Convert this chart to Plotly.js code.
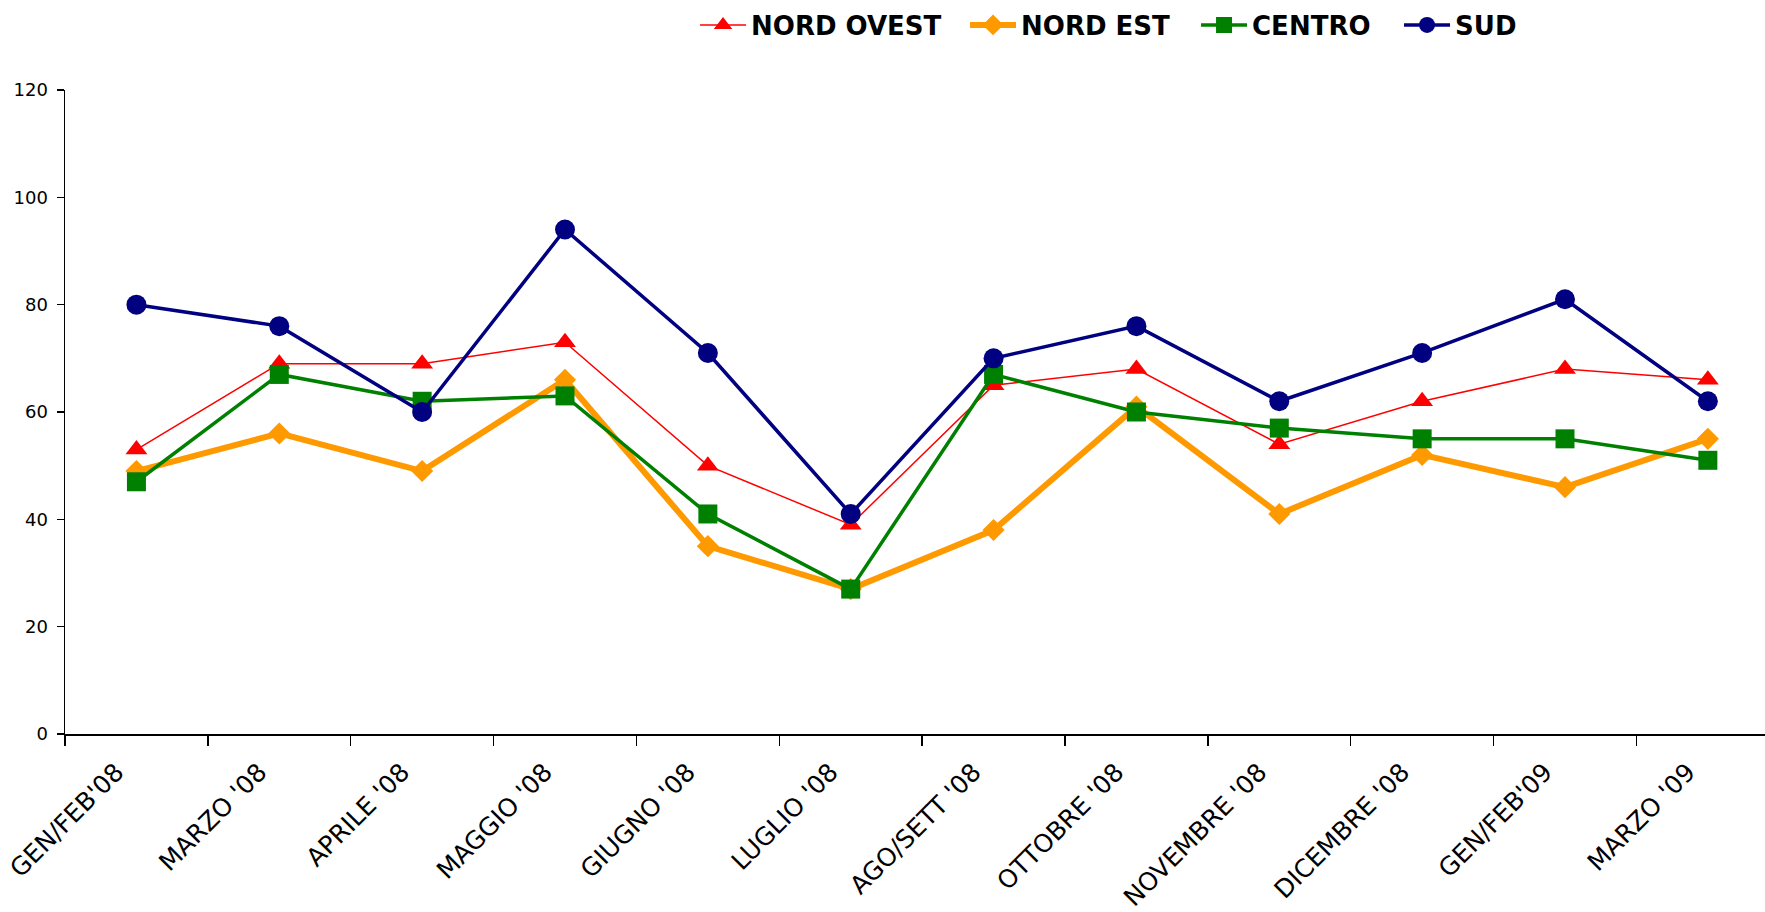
<!DOCTYPE html>
<html>
<head>
<meta charset="utf-8">
<script src="https://cdn.plot.ly/plotly-3.0.1.min.js"></script>
<style>
html,body{margin:0;padding:0;background:#fff;}
#chart{width:1765px;height:912px;}
</style>
</head>
<body>
<div id="chart"></div>
<script>
const categories = ["GEN/FEB'08", "MARZO '08", "APRILE '08", "MAGGIO '08", "GIUGNO '08", "LUGLIO '08", "AGO/SETT '08", "OTTOBRE '08", "NOVEMBRE '08", "DICEMBRE '08", "GEN/FEB'09", "MARZO '09"];
const nordOvest = [53, 69, 69, 73, 50, 39, 65, 68, 54, 62, 68, 66];
const nordEst   = [49, 56, 49, 66, 35, 27, 38, 61, 41, 52, 46, 55];
const centro    = [47, 67, 62, 63, 41, 27, 67, 60, 57, 55, 55, 51];
const sud       = [80, 76, 60, 94, 71, 41, 70, 76, 62, 71, 81, 62];
const seriesNames = ["NORD OVEST", "NORD EST", "CENTRO", "SUD"];

const traces = [
  {x: categories, y: nordOvest, name: seriesNames[0], type: 'scatter', mode: 'lines+markers', legendwidth: 209,
   line: {color: '#FF0000', width: 1.5}, marker: {symbol: 'triangle-up', size: 19, color: '#FF0000'}},
  {x: categories, y: nordEst, name: seriesNames[1], type: 'scatter', mode: 'lines+markers', legendwidth: 170,
   line: {color: '#FF9900', width: 6}, marker: {symbol: 'diamond', size: 17, color: '#FF9900'}},
  {x: categories, y: centro, name: seriesNames[2], type: 'scatter', mode: 'lines+markers', legendwidth: 142,
   line: {color: '#008000', width: 3.5}, marker: {symbol: 'square', size: 19, color: '#008000'}},
  {x: categories, y: sud, name: seriesNames[3], type: 'scatter', mode: 'lines+markers', legendwidth: 90,
   line: {color: '#000080', width: 3.5}, marker: {symbol: 'circle', size: 20, color: '#000080'}}
];

const layout = {
  width: 1765, height: 912,
  margin: {l: 65, r: 0, t: 90, b: 178},
  paper_bgcolor: '#fff', plot_bgcolor: '#fff',
  font: {family: 'DejaVu Sans, Verdana, sans-serif', color: '#000'},
  showlegend: true,
  legend: {orientation: 'h', x: 0.636, xanchor: 'center', xref: 'container',
           y: 0.9726, yanchor: 'middle', yref: 'container',
           font: {size: 26, family: 'DejaVu Sans, Verdana, sans-serif', weight: 'bold'},
           traceorder: 'normal', itemwidth: 46},
  xaxis: {type: 'category', range: [-0.5, 11.4], showgrid: false, zeroline: false,
          showline: true, linecolor: '#000', linewidth: 1.5,
          ticks: 'outside', ticklen: 10, tickcolor: '#000', tickwidth: 1.5, tickson: 'boundaries',
          tickangle: -45, tickfont: {size: 25}, ticklabelstandoff: 12, ticklabelshift: -20, fixedrange: true},
  yaxis: {range: [0, 120], dtick: 20, tick0: 0, showgrid: false, zeroline: false,
          showline: true, linecolor: '#000', linewidth: 1.5,
          ticks: 'outside', ticklen: 7, tickcolor: '#000', tickwidth: 1.5, ticklabelstandoff: 5,
          tickfont: {size: 18}, fixedrange: true}
};

Plotly.newPlot('chart', traces, layout, {displayModeBar: false, staticPlot: true});
</script>
</body>
</html>
